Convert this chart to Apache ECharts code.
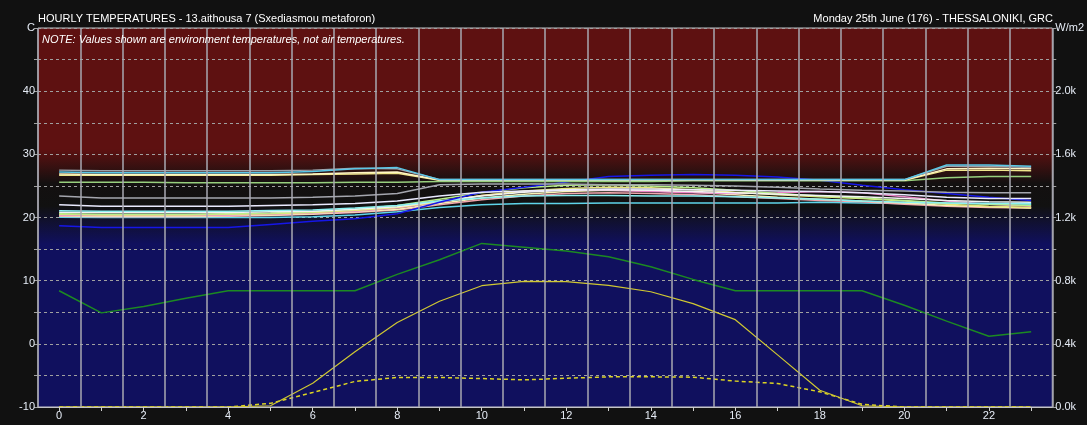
<!DOCTYPE html>
<html>
<head>
<meta charset="utf-8">
<script src="https://cdn.jsdelivr.net/npm/echarts@6/dist/echarts.min.js"></script>
<style>
  html, body { margin: 0; padding: 0; background: #111111; }
  #chart { width: 1087px; height: 425px; }
</style>
</head>
<body>
<div id="chart"></div>
<script>
// Hour of day (category axis)
const hours = ['0','1','2','3','4','5','6','7','8','9','10','11','12','13','14','15','16','17','18','19','20','21','22','23'];

// Zone environment temperatures (C), one value per hour
const zoneCyanA     = [27.2,27.1,27.1,27.1,27.1,27.1,27.3,27.7,27.9,26.0,26.0,26.0,26.0,26.0,26.0,26.0,26.0,26.0,26.0,26.0,26.0,28.3,28.3,28.1];
const zoneGreyA     = [27.5,27.4,27.4,27.4,27.4,27.4,27.5,27.8,27.7,26.0,26.0,26.0,26.0,26.0,26.0,26.0,26.0,26.0,26.0,26.0,26.0,28.1,28.1,27.9];
const zoneCreamA    = [26.9,26.8,26.8,26.8,26.8,26.8,26.9,27.1,27.2,25.95,25.95,25.95,25.95,25.95,25.95,25.95,25.95,25.95,25.95,25.95,25.95,27.7,27.8,27.7];
const zoneYellowA   = [26.7,26.7,26.7,26.7,26.7,26.7,26.8,26.9,27.0,25.9,25.9,25.9,25.9,25.9,25.9,25.9,25.9,25.9,25.9,25.9,25.9,27.5,27.5,27.4];
const zoneGreenA    = [25.6,25.6,25.6,25.5,25.5,25.5,25.5,25.6,25.6,25.7,25.7,25.7,25.7,25.7,25.7,25.8,25.8,25.8,25.8,25.8,25.8,26.3,26.5,26.5];
const zoneGreyB     = [23.4,23.1,23.1,23.1,23.1,23.1,23.2,23.4,23.8,25.2,25.3,25.3,25.3,25.2,25.2,25.1,25.0,24.8,24.5,24.3,24.2,24.0,23.9,23.9];
const zoneWhiteB    = [22.0,21.8,21.8,21.8,21.8,21.9,22.0,22.2,22.6,23.4,24.0,24.2,24.4,24.5,24.5,24.4,24.3,24.2,24.1,23.9,23.6,23.2,23.0,23.0];
const zoneBlue      = [18.7,18.4,18.4,18.4,18.4,18.9,19.4,19.8,20.6,22.4,24.0,24.8,25.6,26.5,26.7,26.8,26.7,26.4,25.9,25.1,24.4,23.8,23.2,22.7];
const zoneCyanC     = [20.05,20.0,20.0,20.0,20.0,20.0,20.1,20.4,20.9,21.6,22.0,22.2,22.2,22.3,22.3,22.3,22.3,22.3,22.4,22.3,22.2,22.2,22.2,22.1];
const zoneSalmonC   = [20.2,20.1,20.1,20.1,20.2,20.3,20.5,20.8,21.2,22.0,22.8,23.4,23.8,23.9,23.8,23.6,23.3,23.0,22.7,22.5,22.1,21.8,21.6,21.5];
const zoneCreamC    = [20.3,20.2,20.2,20.2,20.3,20.4,20.6,20.9,21.3,22.2,23.1,23.7,24.1,24.3,24.2,24.0,23.6,23.2,22.9,22.6,22.3,21.9,21.7,21.5];
const zonePinkC     = [20.4,20.3,20.3,20.3,20.4,20.5,20.7,21.0,21.5,22.4,23.5,24.1,24.4,24.3,24.1,23.9,23.8,23.9,24.1,23.9,23.3,22.6,22.1,21.8];
const zoneYellowC   = [20.5,20.4,20.4,20.4,20.5,20.6,20.8,21.1,21.6,22.5,23.5,24.2,24.6,24.8,24.7,24.4,24.0,23.6,23.3,23.0,22.6,22.1,21.8,21.6];
const zoneLimeC     = [20.6,20.5,20.5,20.5,20.6,20.7,20.9,21.3,21.9,22.9,23.9,24.7,25.1,25.2,25.0,24.7,24.3,23.8,23.4,23.1,22.7,22.3,22.1,21.9];
const zoneWhiteC    = [20.85,20.8,20.8,20.8,20.8,20.9,21.0,21.3,21.7,22.6,23.4,24.0,24.3,24.4,24.3,24.1,23.9,23.7,23.5,23.3,23.0,22.7,22.5,22.4];
const zoneAquaC     = [21.05,21.0,21.0,21.0,21.0,21.1,21.2,21.5,21.9,22.6,23.1,23.4,23.5,23.5,23.4,23.4,23.3,23.1,22.9,22.6,22.4,22.3,22.2,22.2];

// Outside air temperature (C)
const outsideTemp   = [8.4,4.9,5.9,7.2,8.4,8.4,8.4,8.4,11.0,13.3,15.9,15.3,14.7,13.8,12.2,10.2,8.4,8.4,8.4,8.4,6.1,3.6,1.2,1.9];

// Solar radiation (W/m2)
const directSolar   = [0,0,0,0,0,8,150,350,535,670,768,796,794,770,730,655,553,330,106,8,0,0,0,0];
const diffuseSolar  = [0,0,0,0,0,23,92,162,187,187,180,172,182,191,191,189,164,149,96,17,0,0,0,0];

const zones = [
  { data: zoneCyanC,   color: '#5fd6ea' },
  { data: zoneSalmonC, color: '#f2a6ae' },
  { data: zoneCreamC,  color: '#f8f2b6' },
  { data: zonePinkC,   color: '#ea84c8' },
  { data: zoneYellowC, color: '#e6e67a' },
  { data: zoneLimeC,   color: '#b8ee8a' },
  { data: zoneWhiteC,  color: '#f2f2f2' },
  { data: zoneAquaC,   color: '#8cf0f2' },
  { data: zoneBlue,    color: '#1616e8' },
  { data: zoneWhiteB,  color: '#eaeaff' },
  { data: zoneGreyB,   color: '#a4a6ae' },
  { data: zoneGreenA,  color: '#98d07e' },
  { data: zoneYellowA, color: '#eee68c' },
  { data: zoneCreamA,  color: '#fff6c4' },
  { data: zoneGreyA,   color: '#9ea2aa' },
  { data: zoneCyanA,   color: '#5ac8e8' }
];

const FONT = 'Liberation Sans, Arial, sans-serif';
const labelColor = '#e6ecf6';

const series = zones.map(z => ({
  type: 'line',
  data: z.data,
  yAxisIndex: 0,
  symbol: 'none',
  lineStyle: { color: z.color, width: 1.5 },
  silent: true
}));

series.push({
  type: 'line', data: outsideTemp, yAxisIndex: 0, symbol: 'none',
  lineStyle: { color: '#1c8a22', width: 1.5 }, silent: true
});
series.push({
  type: 'line', data: diffuseSolar, yAxisIndex: 1, symbol: 'none',
  lineStyle: { color: '#dcd424', width: 1.5, type: [4, 3] }, silent: true
});
series.push({
  type: 'line', data: directSolar, yAxisIndex: 1, symbol: 'none',
  lineStyle: { color: '#d0c832', width: 1.2 }, silent: true
});

const chart = echarts.init(document.getElementById('chart'), null, { renderer: 'canvas' });
chart.setOption({
  animation: false,
  backgroundColor: '#111111',
  title: [
    { text: 'HOURLY TEMPERATURES - 13.aithousa 7 (Sxediasmou metaforon)', left: 38, top: 13, padding: 0,
      textStyle: { color: '#ffffff', fontSize: 11, fontWeight: 'normal', fontFamily: FONT } },
    { text: 'Monday 25th June (176) - THESSALONIKI, GRC', right: 34, top: 13, padding: 0,
      textStyle: { color: '#ffffff', fontSize: 11, fontWeight: 'normal', fontFamily: FONT } },
    { text: 'NOTE: Values shown are environment temperatures, not air temperatures.', left: 42, top: 34, padding: 0,
      textStyle: { color: '#ffffff', fontSize: 11, fontWeight: 'normal', fontStyle: 'italic', fontFamily: FONT } }
  ],
  grid: {
    left: 38, right: 32, top: 28, bottom: 18,
    show: true,
    borderColor: '#c4c4c8', borderWidth: 1,
    backgroundColor: {
      type: 'linear', x: 0, y: 0, x2: 0, y2: 1,
      colorStops: [
        { offset: 0.00, color: '#5e1111' },
        { offset: 0.32, color: '#5e1111' },
        { offset: 0.41, color: '#131010' },
        { offset: 0.47, color: '#111111' },
        { offset: 0.57, color: '#10105e' },
        { offset: 1.00, color: '#10105e' }
      ]
    }
  },
  xAxis: {
    type: 'category',
    data: hours,
    boundaryGap: true,
    z: 5,
    axisLine: { show: true, onZero: false, lineStyle: { color: '#c4c4c8', width: 1 } },
    axisTick: { show: true, alignWithLabel: true, interval: 0, length: 4, lineStyle: { color: '#d0d0d0' } },
    axisLabel: { interval: 1, color: labelColor, fontSize: 11, fontFamily: FONT, margin: 3 },
    splitLine: { show: true, interval: 0, lineStyle: { color: '#a8a8b2', width: 1.5 } }
  },
  yAxis: [
    {
      type: 'value', min: -10, max: 50, interval: 5, position: 'left',
      axisLine: { show: false },
      axisTick: { show: true, length: 4, lineStyle: { color: '#a0a0a0' } },
      axisLabel: {
        color: labelColor, fontSize: 11, fontFamily: FONT, margin: 3,
        formatter: v => v === 50 ? 'C' : (v % 10 === 0 ? String(v) : '')
      },
      splitLine: { show: true, lineStyle: { color: '#a0a0a0', width: 1, type: [3, 3] } }
    },
    {
      type: 'value', min: 0, max: 2400, interval: 200, position: 'right',
      axisLine: { show: false },
      axisTick: { show: true, length: 4, lineStyle: { color: '#a0a0a0' } },
      axisLabel: {
        color: labelColor, fontSize: 11, fontFamily: FONT, margin: 3,
        formatter: v => v === 2400 ? 'W/m2' : (v % 400 === 0 ? (v / 1000).toFixed(1) + 'k' : '')
      },
      splitLine: { show: false }
    }
  ],
  series: series
});
</script>
</body>
</html>
